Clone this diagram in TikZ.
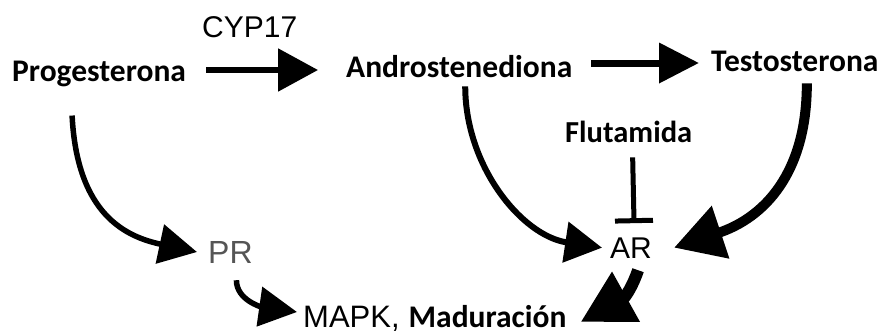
\documentclass[tikz,border=0pt]{standalone}
\usepackage{fontspec}
\setmainfont{Carlito}
\newfontfamily\helv{Liberation Sans}
\usetikzlibrary{arrows.meta}
\definecolor{prgray}{HTML}{555555}
\begin{document}
\begin{tikzpicture}[x=1pt,y=-1pt,
  lbl/.style={inner sep=0pt,anchor=base west,font=\fontsize{31.5}{38}\selectfont\bfseries},
  hlbl/.style={inner sep=0pt,anchor=base west,font=\fontsize{30}{36}\selectfont\helv},
  arrS/.style={line width=5.5pt,-{Triangle[length=40pt,width=42pt]}},
  arrC/.style={line width=5.5pt,-{Triangle[length=38pt,width=39pt]}},
]
\useasboundingbox (0,0) rectangle (880,335);
\fill[white] (0,0) rectangle (880,335);

\node[lbl] (prog) at (12,81) {Progesterona};
\node[hlbl] (cyp) at (202,37) {CYP17};
\node[lbl] (andro) at (346,77) {Androstenediona};
\node[lbl] (testo) at (711,71) {Testosterona};
\node[lbl,font=\fontsize{30.5}{36}\selectfont\bfseries] (flut) at (565,142) {Flutamida};
\node[hlbl,text=prgray,font=\fontsize{32}{36}\selectfont\helv] (pr) at (208,263) {PR};
\node[hlbl] (ar) at (610,258) {AR};
\node[inner sep=0pt,anchor=base west,font=\fontsize{30}{36}\selectfont] (mapk) at (303,327)
  {{\helv\fontsize{31}{36}\selectfont MAPK,}\hspace{9pt}{\fontsize{31.5}{38}\selectfont\bfseries Maduración}};

% straight arrows
\draw[arrS] ([xshift=20pt,yshift=11pt]prog.base east) -- ([xshift=-28pt,yshift=7pt]andro.base west);
\draw[arrS,line width=7pt,-{Triangle[length=40pt,width=39pt]}]
  ([xshift=19pt,yshift=14pt]andro.base east) -- ([xshift=-12pt,yshift=8pt]testo.base west);

% curved arrows
\draw[arrC,line width=6pt,-{Triangle[length=37pt,width=40pt]}]
  ([xshift=6pt,yshift=-9pt]andro.south) .. controls +(0,80) and +(-80,-12) .. ([xshift=-8pt]ar.west);
\draw[line width=10pt,-{Triangle[length=49pt,width=53pt]}]
  ([xshift=12pt,yshift=-12pt]testo.south) .. controls +(0,90) and +(90,-30) .. ([xshift=22pt]ar.east);
\draw[arrC]
  ([xshift=-27pt,yshift=-29pt]prog.south) .. controls +(5,100) and +(-70,-15) .. ([xshift=-11pt]pr.west);
\draw[arrC]
  ([xshift=6pt,yshift=-17pt]pr.south) .. controls +(0,20) and +(-35,-5) .. ([xshift=-6pt,yshift=15pt]mapk.base west);
\draw[line width=12pt,-{Triangle[length=52pt,width=54pt]}]
  ([xshift=7pt,yshift=-12pt]ar.south) .. controls +(-5,15) and +(45,-25) .. ([xshift=14pt,yshift=5pt]mapk.base east);

% inhibition
\draw[line width=5pt,-{Bar[width=38pt,line width=5pt]}]
  ([xshift=4pt,yshift=-15pt]flut.south) -- ([xshift=3pt,yshift=14pt]ar.north);
\end{tikzpicture}
\end{document}
